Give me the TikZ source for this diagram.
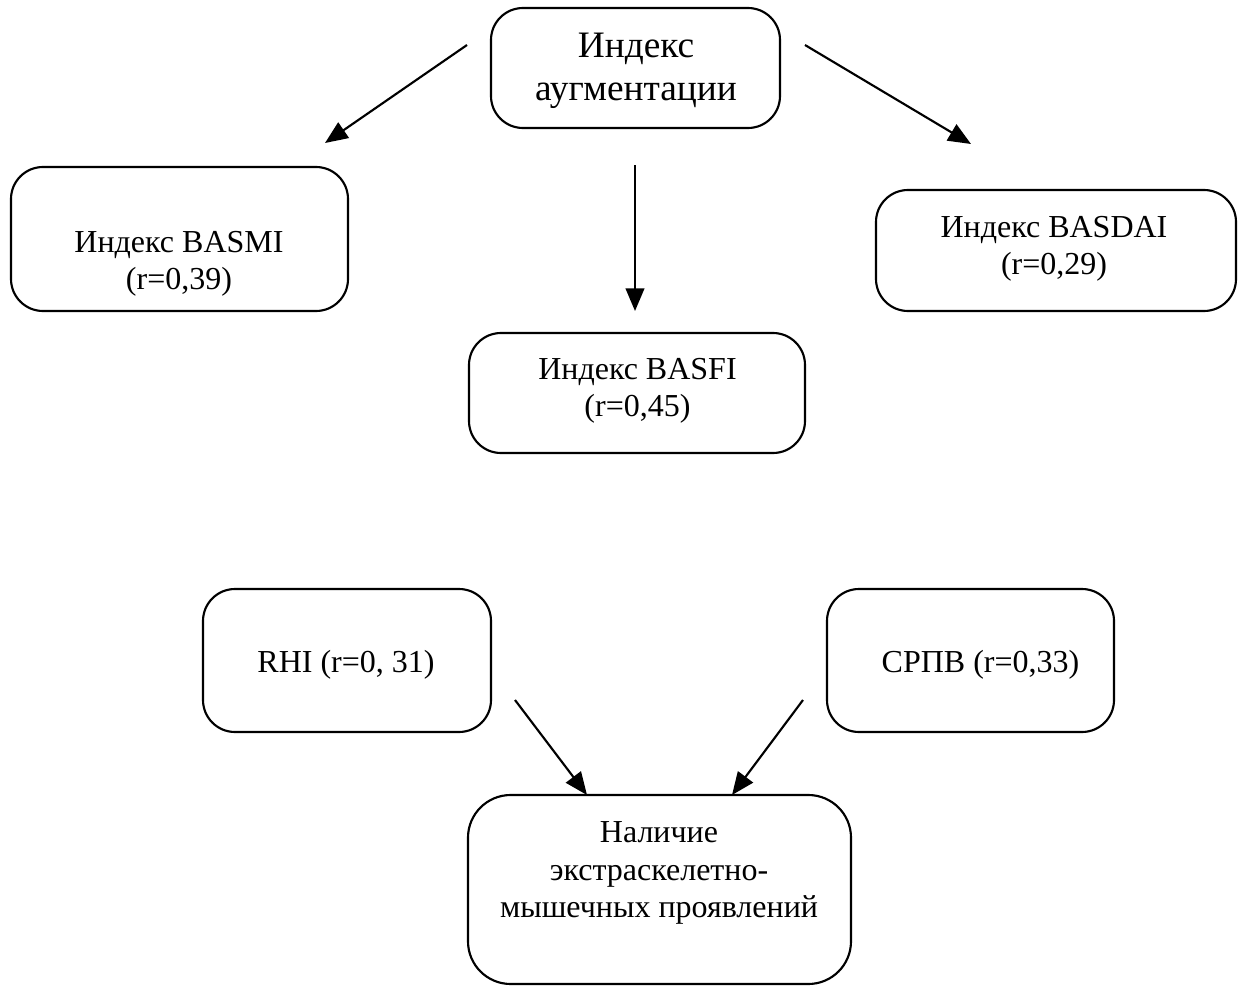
\documentclass[tikz,border=0pt]{standalone}
\usepackage{fontspec}
\setmainfont{Liberation Serif}
\usetikzlibrary{fit,arrows.meta}
\tikzset{
  box/.style={draw, line width=1.6pt, rounded corners=24pt, inner sep=0pt},
  lbl/.style={align=center, font=\fontsize{24}{28}\selectfont, inner sep=0pt},
  biglbl/.style={align=center, font=\fontsize{28}{32.5}\selectfont, inner sep=0pt},
  arr/.style={line width=1.6pt, -{Triangle[length=17pt,width=14pt]}}
}
\begin{document}
\begin{tikzpicture}[x=0.75pt,y=-0.75pt]
\useasboundingbox (0,0) rectangle (1240,989);
% boxes
\node[box, fit={(491,8)(780,128)}] (top) {};
\node[box, fit={(11,167)(348,311)}] (basmi) {};
\node[box, fit={(876,190)(1236,311)}] (basdai) {};
\node[box, fit={(469,333)(805,453)}] (basfi) {};
\node[box, fit={(203,589)(491,732)}] (rhi) {};
\node[box, fit={(827,589)(1114,732)}] (srpv) {};
\node[box, rounded corners=32pt, fit={(468,795)(851,984)}] (nal) {};
% labels
\node[biglbl] (topt) at (636,70.5) {Индекс\\аугментации};
\node[lbl] (basmit) at (179,264) {Индекс BASMI\\(r=0,39)};
\node[lbl] (basdait) at (1054,249) {Индекс BASDAI\\(r=0,29)};
\node[lbl] (basfit) at (637.5,391) {Индекс BASFI\\(r=0,45)};
\node[lbl] (rhit) at (346,664.5) {RHI (r=0, 31)};
\node[lbl] (srpvt) at (980.5,664.5) {СРПВ (r=0,33)};
\node[lbl] (nalt) at (659,873) {Наличие\\экстраскелетно-\\мышечных проявлений};
% arrow endpoints
\coordinate (a1s) at (467,45);  \coordinate (a1e) at (325,143);
\coordinate (a2s) at (635,165); \coordinate (a2e) at (635,311);
\coordinate (a3s) at (805,45);  \coordinate (a3e) at (971,144);
\coordinate (a4s) at (515,700); \coordinate (a4e) at (587,795);
\coordinate (a5s) at (803,700); \coordinate (a5e) at (732,795);
\draw[arr] (a1s) -- (a1e);
\draw[arr] (a2s) -- (a2e);
\draw[arr] (a3s) -- (a3e);
\draw[arr] (a4s) -- (a4e);
\draw[arr] (a5s) -- (a5e);
\end{tikzpicture}
\end{document}
